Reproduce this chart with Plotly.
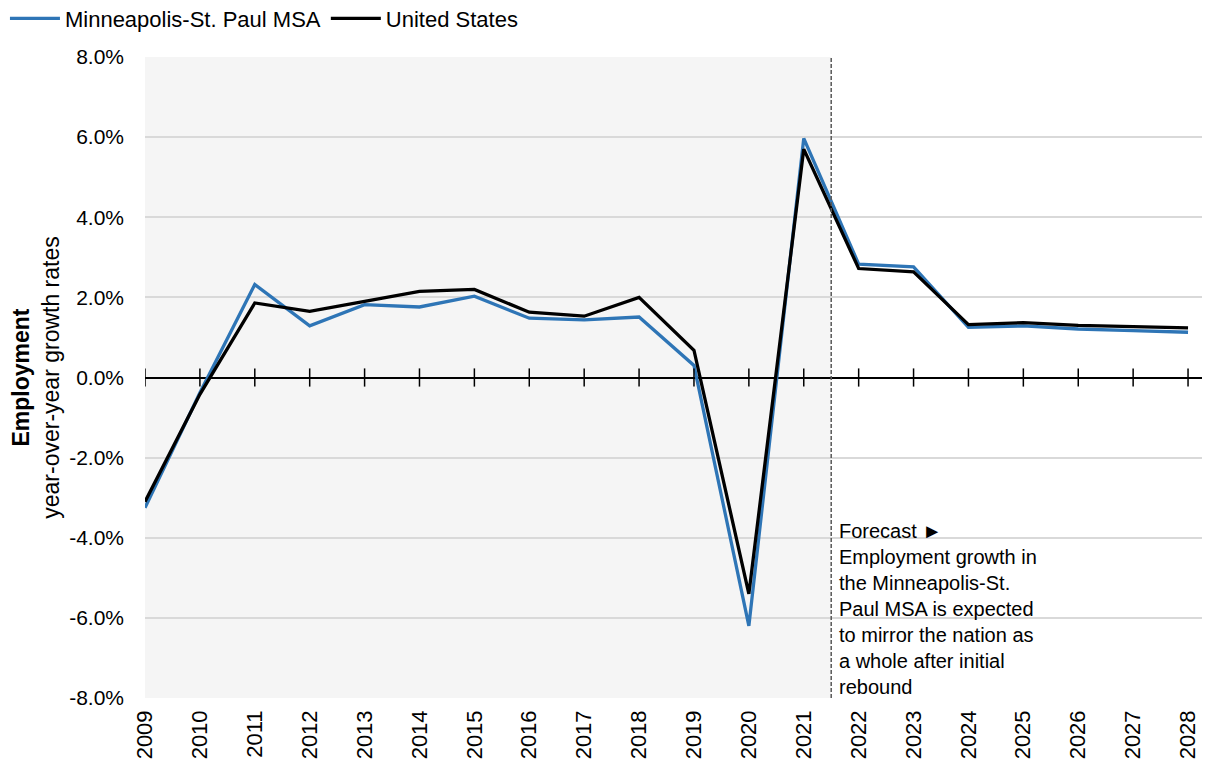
import plotly.graph_objects as go

years = list(range(2009, 2029))
msp = [-3.25, -0.38, 2.32, 1.29, 1.82, 1.76, 2.03, 1.48, 1.44, 1.51, 0.30, -6.20,
       5.97, 2.83, 2.76, 1.25, 1.29, 1.21, 1.17, 1.13]
usa = [-3.10, -0.42, 1.86, 1.65, 1.90, 2.15, 2.20, 1.63, 1.53, 2.00, 0.68, -5.40,
       5.70, 2.72, 2.64, 1.32, 1.37, 1.30, 1.27, 1.24]
y_ticks = [-8, -6, -4, -2, 0, 2, 4, 6, 8]
forecast_start = 2021.5
note = ("Forecast \u25ba<br>Employment growth in<br>the Minneapolis-St.<br>"
        "Paul MSA is expected<br>to mirror the nation as<br>a whole after initial<br>rebound")

font = "Arial, Liberation Sans, sans-serif"

fig = go.Figure()
fig.add_trace(go.Scatter(name="Minneapolis-St. Paul MSA", x=years, y=msp, mode="lines",
                         line=dict(color="#2E75B6", width=3.3)))
fig.add_trace(go.Scatter(name="United States", x=years, y=usa, mode="lines",
                         line=dict(color="black", width=3.3)))
# tick marks crossing the zero line
fig.add_trace(go.Scatter(x=years, y=[0] * len(years), mode="markers", showlegend=False,
                         hoverinfo="skip",
                         marker=dict(symbol="line-ns", size=13, line=dict(color="black", width=1.5))))

# shaded history region + forecast divider
fig.add_shape(type="rect", xref="x", yref="paper", x0=years[0], x1=forecast_start, y0=0, y1=1,
              fillcolor="#F5F5F5", line_width=0, layer="below")
fig.add_shape(type="line", xref="x", yref="paper", x0=forecast_start, x1=forecast_start, y0=0, y1=1,
              line=dict(color="#595959", width=1.5, dash="4px,2px"))

fig.add_annotation(x=forecast_start, y=-3.5, xref="x", yref="y", xanchor="left", yanchor="top",
                   xshift=6, text=note, showarrow=False, align="left",
                   font=dict(size=20, color="black", family=font))

# page body adds an 8px offset, so the figure is 8px smaller than the window
fig.update_layout(
    width=1202, height=755,
    margin=dict(l=137, r=0, t=49, b=65, autoexpand=False),
    plot_bgcolor="white", paper_bgcolor="white",
    font=dict(family=font, size=22, color="black"),
    showlegend=True,
    legend=dict(orientation="h", x=-0.1315, xanchor="left", y=1.06, yanchor="middle",
                itemwidth=50, font=dict(size=22), bgcolor="rgba(0,0,0,0)",
                tracegroupgap=0, itemclick=False),
    xaxis=dict(range=[years[0], years[-1] + 0.4], tickvals=years, ticktext=[str(y) for y in years],
               tickangle=-90, showgrid=False, zeroline=False, showline=False, ticks="",
               ticklabelstandoff=7, automargin=False, tickfont=dict(size=22)),
    yaxis=dict(range=[-8, 8], tickvals=y_ticks, ticktext=[f"{v:.1f}%" for v in y_ticks],
               showgrid=True, gridcolor="#D9D9D9", gridwidth=1.5,
               zeroline=True, zerolinecolor="black", zerolinewidth=1.5,
               ticks="", ticklabelstandoff=20, automargin=False, tickfont=dict(size=21),
               title=dict(text="<b>Employment</b><br>year-over-year growth rates", standoff=3,
                          font=dict(size=23))),
)

fig.write_html("out.html")
